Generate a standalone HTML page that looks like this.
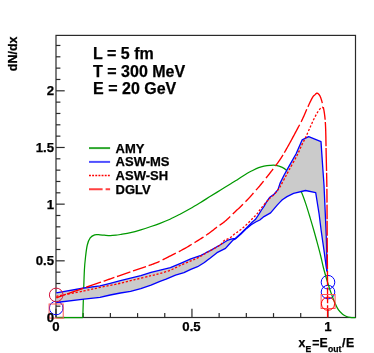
<!DOCTYPE html>
<html><head><meta charset="utf-8"><style>
html,body{margin:0;padding:0;background:#fff;}
svg{display:block;will-change:transform;filter:blur(0.3px);}
text{font-family:"Liberation Sans",sans-serif;font-weight:bold;fill:#000;stroke:#000;stroke-width:0.25px;}
</style></head><body>
<svg width="374" height="353" viewBox="0 0 374 353">
<rect width="374" height="353" fill="#fff"/>
<g stroke="#2a2a2a" stroke-width="1.2" fill="none">
<rect x="56.00" y="35.40" width="299.50" height="282.10"/>
<line x1="56.00" y1="317.50" x2="56.00" y2="308.80"/>
<line x1="83.19" y1="317.50" x2="83.19" y2="313.10"/>
<line x1="110.38" y1="317.50" x2="110.38" y2="313.10"/>
<line x1="137.57" y1="317.50" x2="137.57" y2="313.10"/>
<line x1="164.76" y1="317.50" x2="164.76" y2="313.10"/>
<line x1="191.95" y1="317.50" x2="191.95" y2="308.80"/>
<line x1="219.14" y1="317.50" x2="219.14" y2="313.10"/>
<line x1="246.33" y1="317.50" x2="246.33" y2="313.10"/>
<line x1="273.52" y1="317.50" x2="273.52" y2="313.10"/>
<line x1="300.71" y1="317.50" x2="300.71" y2="313.10"/>
<line x1="327.90" y1="317.50" x2="327.90" y2="308.80"/>
<line x1="56.00" y1="317.50" x2="64.70" y2="317.50"/>
<line x1="56.00" y1="306.17" x2="60.40" y2="306.17"/>
<line x1="56.00" y1="294.83" x2="60.40" y2="294.83"/>
<line x1="56.00" y1="283.50" x2="60.40" y2="283.50"/>
<line x1="56.00" y1="272.16" x2="60.40" y2="272.16"/>
<line x1="56.00" y1="260.82" x2="64.70" y2="260.82"/>
<line x1="56.00" y1="249.49" x2="60.40" y2="249.49"/>
<line x1="56.00" y1="238.16" x2="60.40" y2="238.16"/>
<line x1="56.00" y1="226.82" x2="60.40" y2="226.82"/>
<line x1="56.00" y1="215.49" x2="60.40" y2="215.49"/>
<line x1="56.00" y1="204.15" x2="64.70" y2="204.15"/>
<line x1="56.00" y1="192.81" x2="60.40" y2="192.81"/>
<line x1="56.00" y1="181.48" x2="60.40" y2="181.48"/>
<line x1="56.00" y1="170.15" x2="60.40" y2="170.15"/>
<line x1="56.00" y1="158.81" x2="60.40" y2="158.81"/>
<line x1="56.00" y1="147.48" x2="64.70" y2="147.48"/>
<line x1="56.00" y1="136.14" x2="60.40" y2="136.14"/>
<line x1="56.00" y1="124.81" x2="60.40" y2="124.81"/>
<line x1="56.00" y1="113.47" x2="60.40" y2="113.47"/>
<line x1="56.00" y1="102.14" x2="60.40" y2="102.14"/>
<line x1="56.00" y1="90.80" x2="64.70" y2="90.80"/>
<line x1="56.00" y1="79.47" x2="60.40" y2="79.47"/>
<line x1="56.00" y1="68.13" x2="60.40" y2="68.13"/>
<line x1="56.00" y1="56.80" x2="60.40" y2="56.80"/>
<line x1="56.00" y1="45.46" x2="60.40" y2="45.46"/>
</g>
<g fill="none" stroke-width="1" stroke="#0000ff"><circle cx="56.2" cy="308" r="6.8"/><circle cx="328" cy="282.2" r="6.8"/><circle cx="328" cy="292.1" r="6.8"/></g>
<polyline points="56.2,317.6 82.8,317.6" fill="none" stroke="#009900" stroke-width="1.25"/>
<path d="M82.80,317.60 C82.92,313.83 83.23,302.93 83.50,295.00 C83.77,287.07 84.05,276.45 84.40,270.00 C84.75,263.55 85.12,260.47 85.60,256.30 C86.08,252.13 86.53,248.07 87.30,245.00 C88.07,241.93 88.97,239.60 90.20,237.90 C91.43,236.20 93.07,235.32 94.70,234.80 C96.33,234.28 98.40,234.73 100.00,234.80 C101.60,234.87 102.60,235.07 104.30,235.20 C106.00,235.33 108.25,235.60 110.20,235.60 C112.15,235.60 114.30,235.38 116.00,235.20 C117.70,235.02 117.97,234.93 120.40,234.50 C122.83,234.07 127.20,233.38 130.60,232.60 C134.00,231.82 137.40,230.82 140.80,229.80 C144.20,228.78 147.80,227.58 151.00,226.50 C154.20,225.42 156.83,224.52 160.00,223.30 C163.17,222.08 166.67,220.72 170.00,219.20 C173.33,217.68 176.67,215.93 180.00,214.20 C183.33,212.47 186.63,210.72 190.00,208.80 C193.37,206.88 196.80,204.78 200.20,202.70 C203.60,200.62 207.00,198.42 210.40,196.30 C213.80,194.18 217.20,192.10 220.60,190.00 C224.00,187.90 228.23,185.28 230.80,183.70 C233.37,182.12 234.30,181.58 236.00,180.50 C237.70,179.42 239.12,178.40 241.00,177.20 C242.88,176.00 245.47,174.37 247.30,173.30 C249.13,172.23 250.10,171.73 252.00,170.80 C253.90,169.87 256.70,168.47 258.70,167.70 C260.70,166.93 262.12,166.58 264.00,166.20 C265.88,165.82 268.00,165.53 270.00,165.40 C272.00,165.27 273.95,165.07 276.00,165.40 C278.05,165.73 280.55,166.60 282.30,167.40 C284.05,168.20 284.88,168.77 286.50,170.20 C288.12,171.63 290.25,173.70 292.00,176.00 C293.75,178.30 295.42,181.28 297.00,184.00 C298.58,186.72 300.03,188.98 301.50,192.30 C302.97,195.62 304.33,199.55 305.80,203.90 C307.27,208.25 308.93,213.88 310.30,218.40 C311.67,222.92 312.97,227.40 314.00,231.00 C315.03,234.60 315.40,235.92 316.50,240.00 C317.60,244.08 319.43,250.83 320.60,255.50 C321.77,260.17 322.32,263.47 323.50,268.00 C324.68,272.53 326.42,278.47 327.70,282.70 C328.98,286.93 330.02,290.08 331.20,293.40 C332.38,296.72 333.62,299.88 334.80,302.60 C335.98,305.32 337.00,307.77 338.30,309.70 C339.60,311.63 341.32,313.12 342.60,314.20 C343.88,315.28 344.77,315.67 346.00,316.20 C347.23,316.73 348.42,317.17 350.00,317.40 C351.58,317.63 354.58,317.57 355.50,317.60" fill="none" stroke="#009900" stroke-width="1.25"/>
<polygon points="56.2,292.8 84.0,288.0 100.0,285.8 110.2,283.3 120.4,280.7 130.6,278.2 140.8,275.6 151.0,272.4 160.2,270.2 170.4,267.7 180.6,263.3 190.8,258.9 201.0,255.4 206.0,252.7 210.2,250.6 220.4,244.7 227.2,240.5 230.8,239.1 235.3,238.5 241.0,233.3 246.7,227.7 252.3,222.0 255.3,219.6 258.0,215.7 261.5,210.0 264.0,206.3 266.1,202.7 269.5,197.6 274.0,194.2 278.0,189.6 280.0,183.4 284.0,175.3 288.8,166.6 296.1,153.8 302.1,139.9 308.7,136.7 321.0,141.6 322.5,164.0 324.0,185.0 325.3,214.0 326.2,235.0 326.7,250.4 327.0,271.5 327.0,271.5 326.2,267.0 324.0,250.4 322.5,240.0 321.1,230.0 319.1,214.0 315.7,192.7 305.5,190.5 293.6,193.3 287.0,196.6 282.3,199.8 280.0,202.1 277.4,204.9 270.6,212.9 264.0,216.6 259.8,220.0 255.7,222.0 251.2,224.8 246.7,228.4 241.0,234.0 235.3,238.9 233.0,240.1 228.5,245.0 225.5,248.4 217.0,252.7 210.0,258.2 207.6,260.0 204.4,262.5 197.6,266.7 190.8,269.3 184.0,272.7 175.5,275.2 166.1,279.2 160.0,281.4 151.0,285.1 140.8,288.7 130.6,291.3 120.4,293.0 110.2,295.0 100.0,297.3 84.0,299.1 56.2,302.5" fill="#cbcbcb"/>
<polyline points="56.2,292.8 84.0,288.0 100.0,285.8 110.2,283.3 120.4,280.7 130.6,278.2 140.8,275.6 151.0,272.4 160.2,270.2 170.4,267.7 180.6,263.3 190.8,258.9 201.0,255.4 206.0,252.7 210.2,250.6 220.4,244.7 227.2,240.5 230.8,239.1 235.3,238.5 241.0,233.3 246.7,227.7 252.3,222.0 255.3,219.6 258.0,215.7 261.5,210.0 264.0,206.3 266.1,202.7 269.5,197.6 274.0,194.2 278.0,189.6 280.0,183.4 284.0,175.3 288.8,166.6 296.1,153.8 302.1,139.9 308.7,136.7 321.0,141.6 322.5,164.0 324.0,185.0 325.3,214.0 326.2,235.0 326.7,250.4 327.0,271.5" fill="none" stroke="#0000ff" stroke-width="1.3" stroke-linejoin="round"/>
<polyline points="56.2,302.5 84.0,299.1 100.0,297.3 110.2,295.0 120.4,293.0 130.6,291.3 140.8,288.7 151.0,285.1 160.0,281.4 166.1,279.2 175.5,275.2 184.0,272.7 190.8,269.3 197.6,266.7 204.4,262.5 207.6,260.0 210.0,258.2 217.0,252.7 225.5,248.4 228.5,245.0 233.0,240.1 235.3,238.9 241.0,234.0 246.7,228.4 251.2,224.8 255.7,222.0 259.8,220.0 264.0,216.6 270.6,212.9 277.4,204.9 280.0,202.1 282.3,199.8 287.0,196.6 293.6,193.3 305.5,190.5 315.7,192.7 319.1,214.0 321.1,230.0 322.5,240.0 324.0,250.4 326.2,267.0 327.0,271.5" fill="none" stroke="#0000ff" stroke-width="1.3" stroke-linejoin="round"/>
<path d="M56.20,296.40 C60.83,295.48 76.70,292.40 84.00,290.90 C91.30,289.40 94.50,288.55 100.00,287.40 C105.50,286.25 111.33,285.27 117.00,284.00 C122.67,282.73 128.33,281.18 134.00,279.80 C139.67,278.42 146.63,276.77 151.00,275.70 C155.37,274.63 156.97,274.32 160.20,273.40 C163.43,272.48 167.00,271.55 170.40,270.19 C173.80,268.84 177.20,266.80 180.60,265.26 C184.00,263.71 187.97,262.14 190.80,260.92 C193.63,259.70 195.40,259.04 197.60,257.93 C199.80,256.82 201.90,255.44 204.00,254.25 C206.10,253.06 207.47,252.34 210.20,250.77 C212.93,249.21 218.10,246.52 220.40,244.84 C222.70,243.17 222.45,241.85 224.00,240.70 C225.55,239.55 227.82,239.14 229.70,237.93 C231.58,236.72 233.42,234.88 235.30,233.46 C237.18,232.04 239.10,230.91 241.00,229.40 C242.90,227.89 244.82,226.18 246.70,224.40 C248.58,222.62 250.58,220.47 252.30,218.70 C254.02,216.93 255.55,215.52 257.00,213.80 C258.45,212.08 259.30,210.53 261.00,208.40 C262.70,206.27 265.70,202.72 267.20,201.00 C268.70,199.28 268.87,199.15 270.00,198.10 C271.13,197.05 272.87,195.83 274.00,194.70 C275.13,193.57 275.80,192.62 276.80,191.30 C277.80,189.98 278.80,188.77 280.00,186.80 C281.20,184.83 282.53,182.22 284.00,179.50 C285.47,176.78 286.63,174.50 288.80,170.50 C290.97,166.50 294.78,159.85 297.00,155.50 C299.22,151.15 300.68,147.37 302.10,144.40 C303.52,141.43 304.37,140.08 305.50,137.70 C306.63,135.32 307.77,132.63 308.90,130.10 C310.03,127.57 311.03,125.18 312.30,122.50 C313.57,119.82 315.22,116.27 316.50,114.00 C317.78,111.73 319.00,110.03 320.00,108.90 C321.00,107.77 321.90,107.18 322.50,107.20 C323.10,107.22 323.42,108.70 323.60,109.00" fill="none" stroke="#ff0000" stroke-width="1.3" stroke-dasharray="2.2 1.75"/>
<polyline points="56.20,297.90 56.70,297.72 57.30,297.50 58.00,297.25 58.77,296.97 59.62,296.66 60.54,296.32 61.51,295.97 62.54,295.60 63.61,295.21 64.72,294.82 65.85,294.41 67.00,294.00 68.20,293.57 69.47,293.12 70.80,292.65 72.19,292.16 73.62,291.65 75.09,291.13 76.57,290.61 78.07,290.08 79.58,289.55 81.07,289.02 82.55,288.51 84.00,288.00 85.44,287.50 86.90,286.99 88.36,286.49 89.84,285.98 91.31,285.47 92.79,284.97 94.26,284.46 95.72,283.96 97.17,283.46 98.60,282.97 100.01,282.48 101.40,282.00 102.76,281.53 104.09,281.06 105.39,280.60 106.68,280.14 107.96,279.69 109.22,279.24 110.49,278.79 111.76,278.34 113.04,277.89 114.34,277.43 115.66,276.97 117.00,276.50 118.37,276.02 119.75,275.54 121.15,275.05 122.56,274.56 123.98,274.06 125.41,273.57 126.85,273.07 128.28,272.57 129.72,272.08 131.15,271.58 132.58,271.09 134.00,270.60 135.44,270.11 136.93,269.60 138.44,269.09 139.96,268.58 141.49,268.06 143.00,267.56 144.48,267.06 145.93,266.57 147.31,266.09 148.63,265.64 149.86,265.21 151.00,264.80 152.04,264.42 152.99,264.07 153.86,263.75 154.67,263.44 155.42,263.14 156.12,262.86 156.80,262.59 157.44,262.32 158.08,262.05 158.71,261.77 159.35,261.49 160.00,261.20 160.62,260.92 161.17,260.66 161.66,260.42 162.11,260.19 162.55,259.96 163.00,259.72 163.48,259.46 164.00,259.18 164.59,258.86 165.28,258.49 166.07,258.08 167.00,257.60 168.07,257.06 169.25,256.46 170.55,255.82 171.93,255.14 173.37,254.42 174.88,253.67 176.41,252.90 177.96,252.11 179.52,251.31 181.05,250.51 182.55,249.70 184.00,248.91 185.44,248.09 186.93,247.23 188.44,246.34 189.96,245.43 191.49,244.50 193.00,243.58 194.48,242.66 195.93,241.77 197.31,240.90 198.63,240.07 199.86,239.30 201.00,238.58 202.04,237.92 202.99,237.31 203.86,236.75 204.67,236.22 205.42,235.71 206.12,235.23 206.80,234.77 207.44,234.32 208.08,233.88 208.71,233.43 209.35,232.97 210.00,232.50 210.65,232.02 211.28,231.55 211.89,231.08 212.48,230.62 213.06,230.16 213.62,229.71 214.18,229.26 214.74,228.81 215.30,228.37 215.86,227.93 216.42,227.49 217.00,227.06 217.59,226.63 218.18,226.21 218.78,225.79 219.38,225.38 219.98,224.98 220.58,224.57 221.18,224.17 221.76,223.76 222.34,223.36 222.91,222.95 223.46,222.54 224.00,222.12 224.52,221.70 225.04,221.27 225.55,220.83 226.05,220.39 226.54,219.95 227.02,219.52 227.49,219.08 227.95,218.65 228.40,218.22 228.85,217.81 229.28,217.40 229.70,217.01 230.10,216.63 230.48,216.27 230.83,215.93 231.17,215.60 231.50,215.27 231.83,214.94 232.16,214.62 232.49,214.29 232.84,213.95 233.20,213.59 233.59,213.22 234.00,212.82 234.44,212.40 234.91,211.97 235.39,211.52 235.89,211.06 236.39,210.58 236.91,210.10 237.44,209.62 237.96,209.13 238.48,208.64 239.00,208.16 239.51,207.68 240.00,207.20 240.49,206.72 240.98,206.24 241.48,205.75 241.97,205.26 242.47,204.77 242.96,204.28 243.44,203.79 243.91,203.31 244.38,202.84 244.83,202.38 245.27,201.93 245.70,201.50 246.11,201.09 246.49,200.69 246.86,200.31 247.22,199.94 247.57,199.59 247.91,199.23 248.25,198.88 248.59,198.52 248.93,198.16 249.28,197.79 249.63,197.40 250.00,197.00 250.38,196.58 250.75,196.16 251.13,195.73 251.51,195.30 251.89,194.86 252.28,194.41 252.66,193.96 253.06,193.50 253.46,193.03 253.87,192.56 254.28,192.08 254.70,191.60 255.12,191.13 255.52,190.68 255.91,190.24 256.30,189.81 256.70,189.37 257.11,188.91 257.53,188.43 257.99,187.91 258.48,187.35 259.00,186.74 259.57,186.06 260.20,185.30 260.89,184.46 261.63,183.55 262.43,182.57 263.26,181.53 264.13,180.45 265.02,179.34 265.93,178.20 266.85,177.04 267.76,175.89 268.66,174.74 269.55,173.60 270.40,172.50 271.24,171.41 272.09,170.32 272.94,169.22 273.79,168.13 274.63,167.02 275.48,165.92 276.31,164.81 277.14,163.70 277.95,162.58 278.75,161.46 279.54,160.33 280.30,159.20 281.04,158.07 281.76,156.94 282.46,155.81 283.15,154.68 283.82,153.54 284.49,152.40 285.15,151.25 285.81,150.09 286.47,148.92 287.14,147.73 287.81,146.52 288.50,145.30 289.21,144.04 289.94,142.72 290.68,141.36 291.44,139.98 292.19,138.58 292.94,137.19 293.68,135.81 294.41,134.46 295.11,133.15 295.78,131.89 296.41,130.70 297.00,129.60 297.54,128.59 298.05,127.66 298.51,126.80 298.95,125.99 299.37,125.22 299.76,124.49 300.15,123.77 300.53,123.04 300.90,122.31 301.29,121.55 301.69,120.75 302.10,119.90 302.53,119.00 302.95,118.08 303.38,117.13 303.80,116.17 304.22,115.19 304.65,114.21 305.08,113.22 305.50,112.23 305.92,111.25 306.35,110.29 306.77,109.33 307.20,108.40 307.63,107.46 308.08,106.49 308.53,105.51 308.99,104.52 309.45,103.53 309.91,102.57 310.35,101.63 310.79,100.74 311.20,99.89 311.59,99.12 311.96,98.41 312.30,97.80 312.60,97.28 312.88,96.84 313.13,96.48 313.36,96.19 313.57,95.94 313.77,95.74 313.96,95.57 314.14,95.41 314.32,95.27 314.51,95.13 314.70,94.98 314.90,94.80 315.11,94.60 315.31,94.40 315.50,94.19 315.70,93.99 315.89,93.80 316.09,93.62 316.28,93.46 316.48,93.33 316.68,93.24 316.88,93.18 317.09,93.16 317.30,93.20 317.52,93.28 317.75,93.39 317.98,93.54 318.22,93.72 318.46,93.94 318.70,94.18 318.94,94.46 319.18,94.77 319.42,95.11 319.65,95.47 319.88,95.87 320.10,96.30 320.32,96.76 320.53,97.26 320.74,97.80 320.94,98.37 321.15,98.98 321.35,99.61 321.55,100.26 321.74,100.94 321.94,101.63 322.13,102.34 322.32,103.07 322.50,103.80 322.68,104.54 322.87,105.30 323.05,106.08 323.23,106.87 323.41,107.69 323.58,108.52 323.75,109.37 323.91,110.25 324.07,111.15 324.22,112.07 324.37,113.02 324.50,114.00 324.62,114.97 324.74,115.90 324.85,116.83 324.95,117.75 325.05,118.70 325.14,119.69 325.22,120.75 325.30,121.88 325.38,123.11 325.46,124.47 325.53,125.96 325.60,127.60 325.67,129.40 325.73,131.35 325.78,133.41 325.83,135.60 325.88,137.88 325.92,140.24 325.97,142.68 326.01,145.18 326.05,147.73 326.10,150.30 326.15,152.90 326.20,155.50 326.26,158.09 326.32,160.69 326.38,163.30 326.44,165.94 326.50,168.62 326.57,171.37 326.63,174.19 326.69,177.11 326.75,180.13 326.81,183.28 326.86,186.56 326.90,190.00 326.94,193.66 326.97,197.55 327.00,201.64 327.03,205.89 327.05,210.24 327.07,214.66 327.10,219.09 327.11,223.50 327.13,227.84 327.15,232.07 327.18,236.13 327.20,240.00 327.23,243.69 327.25,247.27 327.28,250.76 327.31,254.16 327.34,257.50 327.36,260.77 327.39,264.01 327.41,267.21 327.44,270.40 327.46,273.59 327.48,276.78 327.50,280.00 327.52,283.34 327.53,286.84 327.54,290.45 327.55,294.10 327.56,297.74 327.57,301.30 327.58,304.72 327.58,307.94 327.59,310.90 327.59,313.54 327.60,315.79 327.60,317.60" fill="none" stroke="#ff0000" stroke-width="1.35" stroke-dasharray="8.93 2.55 17.18 3.18 15.65 2.75 11.45 2.76 14.19 2.75 13.73 2.75 11.80 3.33 14.81 3.37 14.83 3.29 10.64 3.12 13.64 3.06 14.00 3.51 14.11 3.56 11.84 3.79 11.80 3.84 11.54 3.78 13.46 2.56 31.85 3.23 13.88 2.64 28.56 4.11 12.85 2.11 24.31 1.80 22.91 1.90 14.10 1.90 13.80 2.00 14.60 1.60 15.00 1.90 14.70 1.90 14.70 1.90 14.70 1.90 15.80 2.00 17.30 0.01"/>
<g fill="none" stroke-width="1">
<circle cx="56.2" cy="294.9" r="6.8" stroke="#d5103a"/>
<rect x="49.1" y="304" width="14.1" height="14.1" stroke="#ff5555"/>
<rect x="321.1" y="294.5" width="14" height="14" stroke="#ff5555"/>
<circle cx="328" cy="303.7" r="6.6" stroke="#ff0000"/>
</g>
<g font-size="13.2px">
<text x="54" y="322" text-anchor="end">0</text>
<text x="54" y="265.3" text-anchor="end">0.5</text>
<text x="54" y="208.8" text-anchor="end">1</text>
<text x="54" y="152.0" text-anchor="end">1.5</text>
<text x="54" y="95.3" text-anchor="end">2</text>
<text x="56" y="330.5" text-anchor="middle">0</text>
<text x="191.5" y="330.5" text-anchor="middle">0.5</text>
<text x="327.8" y="330.5" text-anchor="middle">1</text>
</g>
<text font-size="12.5px" transform="translate(17.2,36.5) rotate(-90)" text-anchor="end">dN/dx</text>
<g font-size="12.3px"><text x="298.6" y="347.4">x</text><text x="312.3" y="347.4">=</text><text x="319.6" y="347.4">E</text><text x="341.9" y="347.4">/</text><text x="346" y="347.4">E</text></g>
<g font-size="8.6px"><text x="305.4" y="351.6">E</text><text x="328.1" y="351.6">out</text></g>
<g font-size="16px" stroke="#000" stroke-width="0.45">
<text x="93.1" y="59.4">L = 5 fm</text>
<text x="93.1" y="77.3">T = 300 MeV</text>
<text x="93.1" y="94.3">E = 20 GeV</text>
</g>
<g stroke-width="2" fill="none">
<line x1="89" y1="148.1" x2="110.1" y2="148.1" stroke="#2fa82f"/>
<line x1="89" y1="161.9" x2="110.1" y2="161.9" stroke="#5050ff"/>
<line x1="89" y1="175.6" x2="110.1" y2="175.6" stroke="#ff0000" stroke-width="1.5" stroke-dasharray="1.9 1.25"/>
<line x1="89" y1="189.2" x2="110.1" y2="189.2" stroke="#ff4040" stroke-dasharray="13.6 3 10 0"/>
</g>
<g font-size="13px">
<text x="115.6" y="152.5">AMY</text>
<text x="115.6" y="166.3">ASW-MS</text>
<text x="115.6" y="180.1">ASW-SH</text>
<text x="115.6" y="193.9">DGLV</text>
</g>
</svg>
</body></html>
